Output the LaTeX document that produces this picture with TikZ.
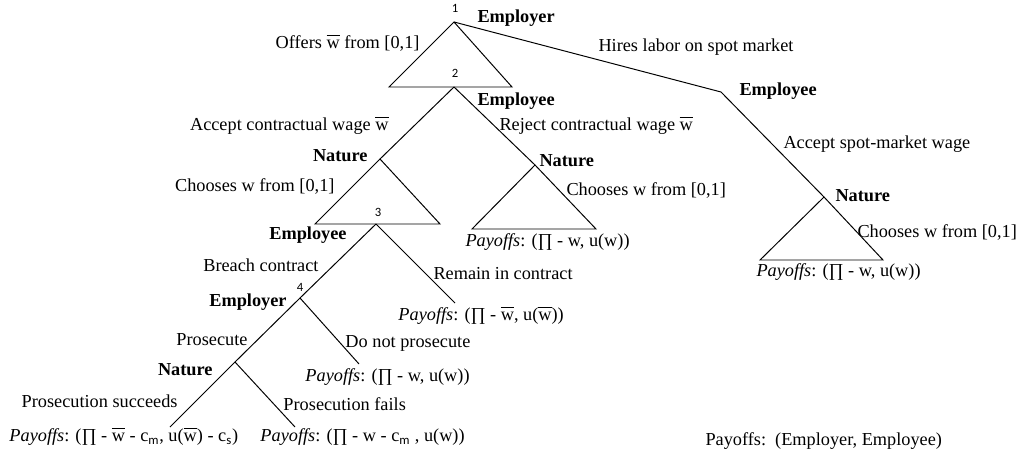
\documentclass[tikz,border=0pt]{standalone}
\usepackage{fontspec}
\setmainfont{Liberation Serif}
\newfontfamily\numfont{Carlito}
\newcommand{\wbar}{$\overline{\mbox{w\vphantom{I}}}$}
\newcommand{\pay}{\textit{Payoffs}}
\newcommand{\subs}[1]{\textsubscript{\numfont #1}}

\begin{document}
\begin{tikzpicture}[x=0.025cm, y=-0.025cm, line width=0.7pt,
  lbl/.style={inner sep=0pt, text height=0.7em, text depth=0pt, font=\fontsize{13}{15}\selectfont},
  player/.style={lbl, font=\fontsize{13}{15}\selectfont\bfseries},
  num/.style={inner sep=0pt, font=\numfont\fontsize{9}{10}\selectfont}]
  \useasboundingbox (0,0) rectangle (1023,459);

  % decision nodes
  \coordinate (n1) at (454,22);
  \coordinate (n2) at (454,87);
  \coordinate (spot) at (721,92);
  \coordinate (nat1) at (380,159);
  \coordinate (nat2) at (535,165);
  \coordinate (nat3) at (824,197);
  \coordinate (n3) at (376,224);
  \coordinate (n4) at (300,298);
  \coordinate (nat4) at (235,362);
  % ends
  \coordinate (rem) at (455,303);
  \coordinate (dnp) at (359,364);
  \coordinate (succ) at (170,427);
  \coordinate (fail) at (295,427);

  \draw (n1) -- (389,87) -- (512,87) -- cycle;
  \draw (n1) -- (spot) -- (nat3);
  \draw (nat3) -- (760,260) -- (883,260) -- cycle;
  \draw (n2) -- (nat1);
  \draw (nat1) -- (315,224) -- (440,224) -- cycle;
  \draw (n2) -- (nat2);
  \draw (nat2) -- (472,229) -- (596,229) -- cycle;
  \draw (n3) -- (n4);
  \draw (n3) -- (rem);
  \draw (n4) -- (nat4);
  \draw (n4) -- (dnp);
  \draw (nat4) -- (succ);
  \draw (nat4) -- (fail);

  \node[num] (l1) at (455,8) {1};
  \node[num] (l2) at (455,73) {2};
  \node[num] (l3) at (378,212) {3};
  \node[num] (l4) at (300,287) {4};

  \node[player, anchor=west] (p1) at (477,18) {Employer};
  \node[player, anchor=west] (p2) at (477,101) {Employee};
  \node[player, anchor=west] (p3) at (739,91) {Employee};
  \node[player, anchor=east] (p4) at (368,157) {Nature};
  \node[player, anchor=west] (p5) at (539,162) {Nature};
  \node[player, anchor=west] (p6) at (835,197) {Nature};
  \node[player, anchor=east] (p7) at (347,235) {Employee};
  \node[player, anchor=east] (p8) at (287,302) {Employer};
  \node[player, anchor=east] (p9) at (213,371) {Nature};

  \node[lbl, anchor=east] (a1) at (420,44) {Offers \wbar{} from [0,1]};
  \node[lbl, anchor=west] (a2) at (598,47) {Hires labor on spot market};
  \node[lbl, anchor=east] (a3) at (389,126) {Accept contractual wage \wbar};
  \node[lbl, anchor=west] (a4) at (499,126) {Reject contractual wage \wbar};
  \node[lbl, anchor=west] (a5) at (783,144) {Accept spot-market wage};
  \node[lbl, anchor=east] (a6) at (335,187) {Chooses w from [0,1]};
  \node[lbl, anchor=west] (a7) at (566,191) {Chooses w from [0,1]};
  \node[lbl, anchor=west] (a8) at (857,233) {Chooses w from [0,1]};
  \node[lbl, anchor=east] (a9) at (319,267) {Breach contract};
  \node[lbl, anchor=west] (a10) at (433,275) {Remain in contract};
  \node[lbl, anchor=east] (a11) at (248,341) {Prosecute};
  \node[lbl, anchor=west] (a12) at (345,343) {Do not prosecute};
  \node[lbl, anchor=east] (a13) at (178,403) {Prosecution succeeds};
  \node[lbl, anchor=west] (a14) at (283,406) {Prosecution fails};

  \node[lbl, anchor=west] (o1) at (465,242) {\pay: (∏ - w, u(w))};
  \node[lbl, anchor=west] (o2) at (756,272) {\pay: (∏ - w, u(w))};
  \node[lbl, anchor=west] (o3) at (398,316) {\pay: (∏ - \wbar, u(\wbar))};
  \node[lbl, anchor=west] (o4) at (305,377) {\pay: (∏ - w, u(w))};
  \node[lbl, anchor=west] (o5) at (9,437) {\pay: (∏ - \wbar{} - c\subs{m}, u(\wbar) - c\subs{s})};
  \node[lbl, anchor=west] (o6) at (260,437) {\pay: (∏ - w - c\subs{m} , u(w))};
  \node[lbl, anchor=west] (key) at (705,441) {Payoffs:\ \ (Employer, Employee)};
\end{tikzpicture}
\end{document}
